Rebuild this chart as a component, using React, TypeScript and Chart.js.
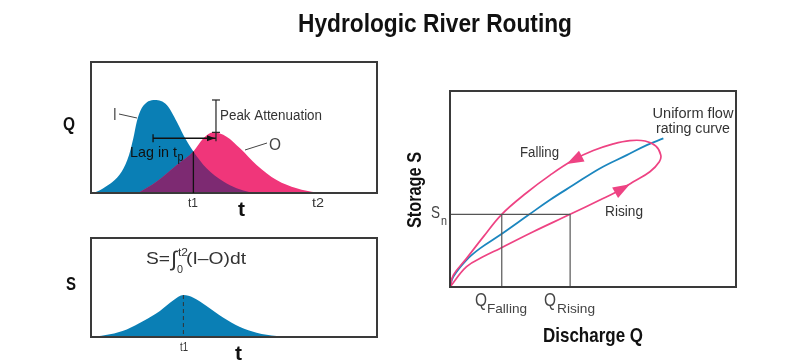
import { useEffect, useRef } from 'react';
import { Chart, registerables } from 'chart.js';

Chart.register(...registerables);

// ---- Top-left: hydrographs (time 0-100, discharge 0-100) ----
const inflowT = [0.8, 4.3, 10.7, 13.3, 14.8, 16.0, 17.7, 22.4, 26.5, 30.0, 32.3, 35.8, 40.4, 46.3, 50.9, 55.6, 57.9];
const inflowQ = [0, 3.6, 16.3, 29.0, 41.7, 54.4, 64.6, 71.0, 67.2, 54.4, 44.3, 31.6, 18.8, 8.7, 3.6, 0.5, 0];
const outflowT = [16.5, 23.0, 30.0, 35.8, 39.3, 42.8, 47.4, 52.1, 57.9, 64.9, 71.9, 78.9, 80.0];
const outflowQ = [0, 8.7, 21.4, 31.6, 41.7, 46.3, 43.0, 34.1, 21.4, 9.9, 3.6, 0.3, 0];
const T1_TOP = 35.8; // intersection time t1
const T1_Q = 31.6;
const LAG_FROM = 21.7;
const LAG_TO = 43.7;
const LAG_Q = 41.8;
const PEAK_IN_Q = 71.0;
const PEAK_OUT_Q = 46.3;

// ---- Bottom-left: storage ----
const storageT = [0.8, 6.6, 12.5, 18.3, 24.1, 28.8, 32.3, 35.8, 40.4, 46.3, 52.1, 57.9, 64.9, 71.9];
const storageS = [0, 2.7, 7.7, 16.2, 26.3, 37.1, 42.4, 39.7, 31.3, 19.5, 10.1, 4.3, 1.0, 0];
const STORAGE_PEAK_T = 32.3;
const STORAGE_PEAK_S = 42.4;

// ---- Right: storage vs discharge ----
const ratingQ = [0, 1.2, 5.8, 10.5, 17.5, 27.4, 34.9, 43.1, 52.4, 61.8, 68.8, 74.6];
const ratingS = [0, 5.3, 13.8, 19.7, 26.5, 36.7, 44.4, 52.0, 60.5, 67.3, 72.4, 75.8];
const loopQ = [0, 5.8, 11.7, 17.5, 29.1, 42.0, 52.4, 58.3, 64.1, 69.9, 73.2, 73.7, 72.0, 68.2, 62.9, 57.1, 50.1, 43.1, 35.0, 26.8, 18.1, 11.7, 5.8, 1.2, 0];
const loopS = [0, 10.4, 15.5, 19.7, 28.2, 37.1, 44.4, 48.6, 53.7, 58.8, 63.9, 67.3, 71.9, 74.5, 74.7, 73.0, 69.6, 64.8, 57.1, 48.1, 37.1, 25.7, 14.6, 6.1, 0];
const S_N = 37.1;
const Q_FALLING = 18.1;
const Q_RISING = 42.0;
const arrowFalling = [{ x: 46.6, y: 67.2 }, { x: 40.8, y: 62.8 }]; // back, tip
const arrowRising = [{ x: 57.1, y: 47.6 }, { x: 62.9, y: 52.4 }];

const BLUE = '#0a7fb5';
const PINK = '#f0367a';
const PURPLE = '#7d2a72';
const LINE_BLUE = '#1b86bf';
const LINE_PINK = '#ee4383';
const BOX = '#3a3a3a';
const TXT = '#333333';
const DARK = '#111111';

const pts = (xs: number[], ys: number[]) => xs.map((x, i) => ({ x, y: ys[i] }));

type LblOpt = { bold?: boolean; w?: number; sx?: number; align?: 'left' | 'center' | 'right'; color?: string; rot?: number };
function label(ctx: CanvasRenderingContext2D, s: string, x: number, y: number, size: number, o: LblOpt = {}) {
  ctx.save();
  ctx.font = `${o.bold ? 'bold ' : ''}${size}px "Liberation Sans", Arial, sans-serif`;
  const m = ctx.measureText(s).width;
  const w = o.w ?? m * (o.sx ?? 0.82);
  const sx = w / m;
  ctx.translate(x, y);
  if (o.rot) ctx.rotate(o.rot);
  const x0 = o.align === 'center' ? -w / 2 : o.align === 'right' ? -w : 0;
  ctx.translate(x0, 0);
  ctx.scale(sx, 1);
  ctx.fillStyle = o.color ?? TXT;
  ctx.textAlign = 'left';
  ctx.textBaseline = 'alphabetic';
  ctx.fillText(s, 0, 0);
  ctx.restore();
}

function seg(ctx: CanvasRenderingContext2D, x1: number, y1: number, x2: number, y2: number, color: string, w = 1) {
  ctx.save();
  ctx.strokeStyle = color;
  ctx.lineWidth = w;
  ctx.beginPath();
  ctx.moveTo(x1, y1);
  ctx.lineTo(x2, y2);
  ctx.stroke();
  ctx.restore();
}

function box(chart: any) {
  const a = chart.chartArea;
  const ctx = chart.ctx;
  ctx.save();
  ctx.strokeStyle = BOX;
  ctx.lineWidth = 2;
  ctx.strokeRect(a.left, a.top, a.right - a.left, a.bottom - a.top);
  ctx.restore();
}

function arrowHead(ctx: CanvasRenderingContext2D, bx: number, by: number, tx: number, ty: number, color: string, len = 17, half = 6) {
  const dx = tx - bx, dy = ty - by;
  const d = Math.hypot(dx, dy) || 1;
  const ux = dx / d, uy = dy / d;
  const cx = tx - ux * len, cy = ty - uy * len;
  ctx.save();
  ctx.fillStyle = color;
  ctx.beginPath();
  ctx.moveTo(tx, ty);
  ctx.lineTo(cx - uy * half, cy + ux * half);
  ctx.lineTo(cx + uy * half, cy - ux * half);
  ctx.closePath();
  ctx.fill();
  ctx.restore();
}

const baseOptions = (padding: any) => ({
  responsive: false,
  animation: false as const,
  devicePixelRatio: 1,
  events: [] as any[],
  layout: { padding },
  plugins: { legend: { display: false }, tooltip: { enabled: false }, title: { display: false } },
  scales: {
    x: { type: 'linear' as const, min: 0, max: 100, display: false },
    y: { type: 'linear' as const, min: 0, max: 100, display: false },
  },
});

const hydroPlugin = {
  id: 'hydro',
  afterDatasetsDraw(chart: any) {
    const ctx = chart.ctx;
    const area = chart.chartArea;
    const y0 = chart.scales.y.getPixelForValue(0);
    const shape = (i: number) => {
      const meta = chart.getDatasetMeta(i);
      const line = meta.dataset;
      line.updateControlPoints(area, 'x');
      const p = meta.data;
      line.path(ctx);
      ctx.lineTo(p[p.length - 1].x, y0);
      ctx.lineTo(p[0].x, y0);
      ctx.closePath();
    };
    ctx.save();
    ctx.beginPath();
    shape(1);
    ctx.clip();
    ctx.beginPath();
    shape(0);
    ctx.fillStyle = PURPLE;
    ctx.fill();
    ctx.restore();
  },
  afterDraw(chart: any) {
    const ctx = chart.ctx;
    const sx = (v: number) => chart.scales.x.getPixelForValue(v);
    const sy = (v: number) => chart.scales.y.getPixelForValue(v);
    box(chart);
    // t1 line
    seg(ctx, sx(T1_TOP), sy(T1_Q), sx(T1_TOP), sy(0), '#111', 1.3);
    // lag arrow
    const ly = sy(LAG_Q);
    const lx1 = sx(LAG_FROM), lx2 = sx(LAG_TO);
    seg(ctx, lx1, ly, lx2, ly, '#111', 1.3);
    seg(ctx, lx1, ly - 4, lx1, ly + 4, '#111', 1.3);
    arrowHead(ctx, lx1, ly, lx2 - 1, ly, '#111', 8, 3);
    // peak attenuation I-beam
    seg(ctx, lx2, sy(PEAK_IN_Q), lx2, ly + 3, '#222', 1.2);
    seg(ctx, lx2 - 4, sy(PEAK_IN_Q), lx2 + 4, sy(PEAK_IN_Q), '#222', 1.2);
    seg(ctx, lx2 - 4, sy(PEAK_OUT_Q), lx2 + 4, sy(PEAK_OUT_Q), '#222', 1.2);
    label(ctx, 'Peak Attenuation', 220, 120, 14, { w: 102 });
    // I and O labels
    label(ctx, 'I', 113, 120, 16, { color: '#444' });
    seg(ctx, 119, 114, 137, 118, '#444', 1);
    label(ctx, 'O', 269, 150, 17, { w: 12, color: '#444' });
    seg(ctx, 245, 150, 267, 143, '#444', 1);
    label(ctx, 'Lag in t', 130, 157, 15, { w: 47, color: DARK });
    label(ctx, 'p', 177.5, 161, 12, { w: 6, color: DARK });
    // axis labels
    label(ctx, 't1', 193, 207, 12, { w: 10, align: 'center' });
    label(ctx, 't2', 318, 207, 12, { w: 12, align: 'center' });
    label(ctx, 't', 241.5, 216, 20, { bold: true, w: 7, align: 'center', color: DARK });
    label(ctx, 'Q', 69, 130, 18, { bold: true, w: 12, align: 'center', color: DARK });
  },
};

const storagePlugin = {
  id: 'storage',
  afterDraw(chart: any) {
    const ctx = chart.ctx;
    const sx = (v: number) => chart.scales.x.getPixelForValue(v);
    const sy = (v: number) => chart.scales.y.getPixelForValue(v);
    ctx.save();
    ctx.setLineDash([4, 3]);
    seg(ctx, sx(STORAGE_PEAK_T), sy(STORAGE_PEAK_S), sx(STORAGE_PEAK_T), sy(0), '#333', 1);
    ctx.restore();
    box(chart);
    label(ctx, 'S=', 146, 264, 17, { w: 24 });
    label(ctx, '\u222B', 171, 266, 21, { w: 6 });
    label(ctx, 't2', 178, 256, 11, { w: 10 });
    label(ctx, '0', 177, 273, 11, { w: 6 });
    label(ctx, '(I\u2013O)dt', 186, 264, 17, { w: 60 });
    label(ctx, 'S', 71, 290, 18, { bold: true, w: 10, align: 'center', color: DARK });
    label(ctx, 't1', 184, 351, 12, { w: 8, align: 'center' });
    label(ctx, 't', 238.5, 360, 20, { bold: true, w: 7, align: 'center', color: DARK });
  },
};

const loopPlugin = {
  id: 'loop',
  afterDatasetsDraw(chart: any) {
    const ctx = chart.ctx;
    const sx = (v: number) => chart.scales.x.getPixelForValue(v);
    const sy = (v: number) => chart.scales.y.getPixelForValue(v);
    for (const a of [arrowFalling, arrowRising]) {
      arrowHead(ctx, sx(a[0].x), sy(a[0].y), sx(a[1].x), sy(a[1].y), LINE_PINK, 17, 6);
    }
  },
  afterDraw(chart: any) {
    const ctx = chart.ctx;
    box(chart);
    label(ctx, 'Hydrologic River Routing', 435, 32, 26, { bold: true, w: 274, align: 'center', color: '#111' });
    label(ctx, 'Storage S', 421, 190, 20, { bold: true, w: 76, align: 'center', color: DARK, rot: -Math.PI / 2 });
    label(ctx, 'Discharge Q', 593, 342, 21, { bold: true, w: 100, align: 'center', color: DARK });
    label(ctx, 'S', 431, 218, 17, { w: 9, color: '#444' });
    label(ctx, 'n', 441, 225, 12, { w: 6, color: '#444' });
    label(ctx, 'Uniform flow', 693, 118, 14, { w: 81, align: 'center' });
    label(ctx, 'rating curve', 693, 133, 14, { w: 74, align: 'center' });
    label(ctx, 'Falling', 539.5, 157, 14, { w: 39, align: 'center' });
    label(ctx, 'Rising', 624, 216, 14, { w: 38, align: 'center' });
    label(ctx, 'Q', 475, 306, 18, { w: 12, color: '#444' });
    label(ctx, 'Falling', 487, 313, 13, { w: 40, color: '#444' });
    label(ctx, 'Q', 544, 306, 18, { w: 12, color: '#444' });
    label(ctx, 'Rising', 557, 313, 13, { w: 38, color: '#444' });
  },
};

export default function App() {
  const r1 = useRef<HTMLCanvasElement>(null);
  const r2 = useRef<HTMLCanvasElement>(null);
  const r3 = useRef<HTMLCanvasElement>(null);

  useEffect(() => {
    const guide = (data: any[]) => ({
      data,
      borderColor: '#555',
      borderWidth: 1.2,
      pointRadius: 0,
      tension: 0,
      fill: false,
    });
    const c1 = new Chart(r1.current!, {
      type: 'line',
      data: {
        datasets: [
          { data: pts(outflowT, outflowQ), fill: 'origin', backgroundColor: PINK, borderColor: 'rgba(0,0,0,0)', borderWidth: 0, pointRadius: 0, cubicInterpolationMode: 'monotone' },
          { data: pts(inflowT, inflowQ), fill: 'origin', backgroundColor: BLUE, borderColor: 'rgba(0,0,0,0)', borderWidth: 0, pointRadius: 0, cubicInterpolationMode: 'monotone' },
        ],
      },
      options: baseOptions({ left: 91, top: 62, right: 433, bottom: 171 }) as any,
      plugins: [hydroPlugin],
    });
    const c2 = new Chart(r2.current!, {
      type: 'line',
      data: {
        datasets: [
          { data: pts(storageT, storageS), fill: 'origin', backgroundColor: BLUE, borderColor: 'rgba(0,0,0,0)', borderWidth: 0, pointRadius: 0, cubicInterpolationMode: 'monotone' },
        ],
      },
      options: baseOptions({ left: 91, top: 238, right: 433, bottom: 27 }) as any,
      plugins: [storagePlugin],
    });
    const c3 = new Chart(r3.current!, {
      type: 'line',
      data: {
        datasets: [
          guide([{ x: 0, y: S_N }, { x: Q_RISING, y: S_N }]),
          guide([{ x: Q_FALLING, y: 0 }, { x: Q_FALLING, y: S_N }]),
          guide([{ x: Q_RISING, y: 0 }, { x: Q_RISING, y: S_N }]),
          { data: pts(loopQ, loopS), borderColor: LINE_PINK, borderWidth: 1.7, pointRadius: 0, tension: 0.4, fill: false },
          { data: pts(ratingQ, ratingS), borderColor: LINE_BLUE, borderWidth: 1.8, pointRadius: 0, tension: 0.4, fill: false },
        ],
      },
      options: baseOptions({ left: 450, top: 91, right: 74, bottom: 77 }) as any,
      plugins: [loopPlugin],
    });
    return () => {
      c1.destroy();
      c2.destroy();
      c3.destroy();
    };
  }, []);

  const st: any = { position: 'fixed', left: 0, top: 0, width: 810, height: 364 };
  return (
    <div style={{ width: 794, height: 348 }}>
      <canvas ref={r1} width={810} height={364} style={st} />
      <canvas ref={r2} width={810} height={364} style={st} />
      <canvas ref={r3} width={810} height={364} style={st} />
    </div>
  );
}
